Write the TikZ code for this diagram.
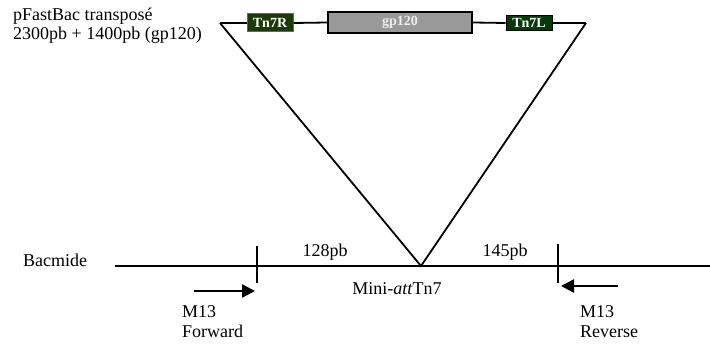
\documentclass[tikz,border=0pt]{standalone}
\usepackage{fontspec}
\setmainfont{Liberation Serif}
\usetikzlibrary{arrows.meta}
\definecolor{tnR}{HTML}{1C3A08}
\definecolor{tnRb}{HTML}{6E6644}
\definecolor{tnL}{HTML}{033A06}
\definecolor{gpfill}{HTML}{999999}
\definecolor{gptext}{HTML}{EEEEEE}
\begin{document}
\begin{tikzpicture}[x=1pt,y=-1pt,
  lbl/.style={font=\fontsize{18}{21}\selectfont, inner sep=0pt},
  seg/.style={line width=1.8pt},
  tnbox/.style={rectangle, inner sep=0pt, font=\fontsize{14}{15}\selectfont\bfseries, text=white, line width=1pt},
  primer/.style={line width=2.4pt, -{Triangle[length=13pt,width=13pt]}}
]
\useasboundingbox (0,0) rectangle (710,344);
% title
\node[lbl, anchor=base west] (t1) at (13,21) {pFastBac transposé};
\node[lbl, anchor=base west] (t2) at (13,40) {2300pb + 1400pb (gp120)};
% triangle corners
\coordinate (TL) at (220,23);
\coordinate (TR) at (586,23);
\coordinate (AP) at (421,266);
% boxes
\node[tnbox, fill=tnR, draw=tnRb, minimum width=46pt, minimum height=18pt] (tnr) at (270,23) {Tn7R};
\node[tnbox, fill=gpfill, draw=black, text=gptext, line width=1.8pt, minimum width=144pt, minimum height=21pt] (gp) at (400,22.5) {gp120};
\node[tnbox, fill=tnL, draw=black, minimum width=46pt, minimum height=15pt] (tnl) at (529,23) {Tn7L};
\draw[seg] (TL) -- (tnr.west);
\draw[seg] (tnr.east) -- (gp.west);
\draw[seg] (gp.east) -- (tnl.west);
\draw[seg] (tnl.east) -- (TR);
\draw[seg, line join=miter] (TL) -- (AP) -- (TR);
% bacmide line
\coordinate (BL) at (115,266);
\coordinate (BR) at (710,266);
\draw[seg] (BL) -- (BR);
\coordinate (k1a) at (257,246); \coordinate (k1b) at (257,283);
\coordinate (k2a) at (558,244); \coordinate (k2b) at (558,283);
\draw[seg] (k1a) -- (k1b);
\draw[seg] (k2a) -- (k2b);
% primers
\coordinate (f1) at (194,291); \coordinate (f2) at (255,291);
\coordinate (r1) at (618,286); \coordinate (r2) at (561,286);
\draw[primer] (f1) -- (f2);
\draw[primer] (r1) -- (r2);
% labels
\node[lbl, anchor=base west] (bac) at (23,267) {Bacmide};
\node[lbl, anchor=base] (l128) at (325,257) {128pb};
\node[lbl, anchor=base] (l145) at (505,257) {145pb};
\node[lbl, anchor=base] (mini) at (397,295) {Mini-\textit{att}Tn7};
\node[lbl, anchor=base west] (m13f) at (182,318) {M13};
\node[lbl, anchor=base west] (fw) at (182,338) {Forward};
\node[lbl, anchor=base west] (m13r) at (580,318) {M13};
\node[lbl, anchor=base west] (rv) at (580,338) {Reverse};
\end{tikzpicture}
\end{document}
